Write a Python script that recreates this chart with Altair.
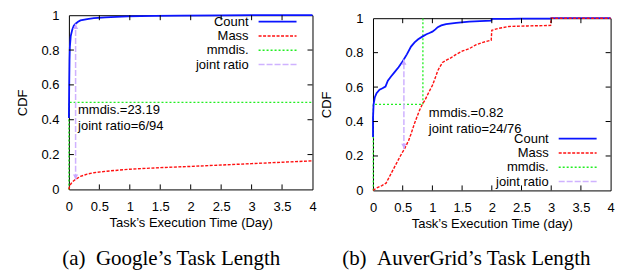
import altair as alt
import pandas as pd

# ---------------- data ----------------
# (a) Google
g_count_x = [0, 0, 0.005, 0.01, 0.016, 0.03, 0.055, 0.08, 0.11, 0.15, 0.19, 0.3, 0.41, 0.6, 0.96, 1.4, 1.83, 2.5, 3.0, 4.0]
g_count_y = [0.41, 0.41, 0.6, 0.74, 0.82, 0.88, 0.917, 0.94, 0.951, 0.962, 0.97, 0.978, 0.983, 0.988, 0.993, 0.996, 0.998, 0.999, 1.0, 1.0]
g_mass_x = [0, 0.01, 0.03, 0.05, 0.08, 0.12, 0.19, 0.3, 0.41, 0.6, 0.8, 1.0, 1.5, 2.0, 2.5, 3.0, 3.5, 4.0]
g_mass_y = [0, 0.015, 0.03, 0.04, 0.05, 0.06, 0.075, 0.088, 0.096, 0.104, 0.11, 0.116, 0.125, 0.132, 0.14, 0.148, 0.156, 0.164]
g_mm_x = [0.0, 0.0, 4.0]
g_mm_y = [0.0, 0.5, 0.5]
g_jr_x = 0.11
g_jr_lo = 0.055
g_jr_hi = 0.951
g_ann = ["mmdis.=23.19", "joint ratio=6/94"]

# (b) AuverGrid
a_count_x = [0, 0.0, 0.01, 0.03, 0.06, 0.11, 0.16, 0.21, 0.25, 0.3, 0.36, 0.43, 0.5, 0.57, 0.64, 0.7, 0.76,
             0.83, 0.9, 0.95, 1.0, 1.05, 1.09, 1.15, 1.23, 1.4, 1.62, 1.8, 1.99, 2.0, 2.5, 2.99, 3.0, 4.0]
a_count_y = [0.31, 0.42, 0.5, 0.54, 0.565, 0.585, 0.593, 0.603, 0.637, 0.66, 0.685, 0.715, 0.75, 0.79, 0.835, 0.86, 0.878,
             0.893, 0.907, 0.914, 0.922, 0.935, 0.948, 0.958, 0.966, 0.973, 0.98, 0.983, 0.986, 0.996, 0.997, 0.998, 1.0, 1.0]
a_mass_x = [0, 0.05, 0.1, 0.15, 0.22, 0.3, 0.39, 0.46, 0.53, 0.6, 0.64, 0.7, 0.78, 0.83, 0.87, 0.94, 1.0, 1.05, 1.09,
            1.12, 1.17, 1.25, 1.29, 1.4, 1.51, 1.62, 1.73, 1.85, 1.99, 2.0, 2.1, 2.29, 2.6, 2.99, 3.0, 4.0]
a_mass_y = [0, 0.012, 0.02, 0.028, 0.042, 0.095, 0.154, 0.2, 0.241, 0.29, 0.328, 0.39, 0.463, 0.5, 0.521, 0.57, 0.61, 0.655, 0.695,
            0.714, 0.743, 0.76, 0.765, 0.79, 0.81, 0.823, 0.845, 0.86, 0.872, 0.93, 0.94, 0.952, 0.955, 0.958, 1.0, 1.0]
a_mm_x = [0.005, 0.005, 0.84, 0.84]
a_mm_y = [0.0, 0.5, 0.5, 1.0]
a_jr_x = 0.52
a_jr_lo = 0.24
a_jr_hi = 0.76
a_ann = ["mmdis.=0.82", "joint ratio=24/76"]

x_ticks = [0, 0.5, 1, 1.5, 2, 2.5, 3, 3.5, 4]
y_ticks = [0, 0.2, 0.4, 0.6, 0.8, 1]
legend_labels = ["Count", "Mass", "mmdis.", "joint ratio"]

# ---------------- styles ----------------
FONT = "Liberation Sans"
SERIF = "Liberation Serif"
BLUE = "#0a14ff"
RED = "#ff1010"
GREEN = "#22ee22"
LAV = "#cfb2ff"
styles = {
    "Count": dict(color=BLUE, strokeWidth=1.8),
    "Mass": dict(color=RED, strokeWidth=1.4, strokeDash=[3, 1.5]),
    "mmdis.": dict(color=GREEN, strokeWidth=1.3, strokeDash=[2, 2]),
    "joint ratio": dict(color=LAV, strokeWidth=1.5, strokeDash=[6, 2]),
}


def panel(cx, cy, mx, my, gx, gy, jx, jlo, jhi, ann, ann_x, ann_y,
          xtitle, caption, W, H, leg_right, leg_top, cap_dx, cap_off):
    xs = alt.Scale(domain=[0, 4], nice=False, zero=False)
    ys = alt.Scale(domain=[0, 1], nice=False)
    common = dict(format="~g", ticks=False, domain=False, grid=False, labelOverlap=False,
                  labelFlush=False, labelFont=FONT, labelFontSize=13, labelColor="black",
                  titleFont=FONT, titleFontSize=13, titleFontWeight="normal", titleColor="black")
    xaxis = alt.Axis(values=x_ticks, labelPadding=11, title=xtitle, titlePadding=3, **common)
    yaxis = alt.Axis(values=y_ticks, labelPadding=10, title="CDF", titlePadding=11, **common)
    X = lambda f: alt.X(f, scale=xs, axis=xaxis)
    Y = lambda f: alt.Y(f, scale=ys, axis=yaxis)

    cdf = pd.DataFrame({"x": cx, "y": cy, "i": range(len(cx))})
    mdf = pd.DataFrame({"x": mx, "y": my, "i": range(len(mx))})
    gdf = pd.DataFrame({"x": gx, "y": gy, "i": range(len(gx))})

    count = alt.Chart(cdf).mark_line(**styles["Count"]).encode(x=X("x:Q"), y=Y("y:Q"), order="i:Q")
    mass = alt.Chart(mdf).mark_line(**styles["Mass"]).encode(x=X("x:Q"), y=Y("y:Q"), order="i:Q")
    mm = alt.Chart(gdf).mark_line(**styles["mmdis."]).encode(x=X("x:Q"), y=Y("y:Q"), order="i:Q")

    jdf = pd.DataFrame({"x": [jx], "lo": [jlo], "hi": [jhi]})
    jr = alt.Chart(jdf).mark_rule(**styles["joint ratio"]).encode(x=X("x:Q"), y=Y("lo:Q"), y2="hi:Q")
    head_up = alt.Chart(jdf).mark_point(shape="triangle-up", filled=True, size=28, color="#c9a6ff",
                                        opacity=1, yOffset=3).encode(x=X("x:Q"), y=Y("hi:Q"))
    head_dn = alt.Chart(jdf).mark_point(shape="triangle-down", filled=True, size=28, color="#c9a6ff",
                                        opacity=1, yOffset=-3).encode(x=X("x:Q"), y=Y("lo:Q"))

    adf = pd.DataFrame({"t": ann, "x": [ann_x, ann_x], "y": ann_y})
    annot = alt.Chart(adf).mark_text(align="left", baseline="middle", font=FONT, fontSize=13,
                                     color="black").encode(x=X("x:Q"), y=Y("y:Q"), text="t:N")

    # inward ticks on all four sides
    xt = pd.DataFrame({"x": x_ticks[1:-1]})
    yt = pd.DataFrame({"y": y_ticks[1:-1]})
    tk = dict(color="black", strokeWidth=1)
    tb = alt.Chart(xt).mark_rule(**tk).encode(x=X("x:Q"), y=alt.value(H), y2=alt.value(H - 5))
    tt = alt.Chart(xt).mark_rule(**tk).encode(x=X("x:Q"), y=alt.value(0), y2=alt.value(5))
    tl = alt.Chart(yt).mark_rule(**tk).encode(y=Y("y:Q"), x=alt.value(0), x2=alt.value(5))
    tr = alt.Chart(yt).mark_rule(**tk).encode(y=Y("y:Q"), x=alt.value(W), x2=alt.value(W - 5))

    # legend, gnuplot style: label right-aligned, then sample line
    leg = []
    for k, lab in enumerate(legend_labels):
        yy = leg_top + k * 14.3
        d = pd.DataFrame({"t": [lab]})
        leg.append(alt.Chart(d).mark_text(align="right", baseline="middle", font=FONT, fontSize=13,
                                          color="black").encode(text="t:N", x=alt.value(leg_right),
                                                                y=alt.value(yy)))
        leg.append(alt.Chart(d).mark_rule(**styles[lab]).encode(
            x=alt.value(leg_right + 10), x2=alt.value(leg_right + 48), y=alt.value(yy)))

    layers = [mm, count, mass, jr, head_up, head_dn, annot, tb, tt, tl, tr] + leg

    return alt.layer(*layers).properties(
        width=W, height=H,
        title=alt.TitleParams(caption, orient="bottom", font=SERIF, fontSize=21, fontWeight="normal",
                              color="black", dx=cap_dx, offset=cap_off, anchor="middle"))


left = panel(g_count_x, g_count_y, g_mass_x, g_mass_y, g_mm_x, g_mm_y, g_jr_x, g_jr_lo, g_jr_hi,
             g_ann, 0.15, [0.455, 0.365],
             "Task\u2019s Execution Time (Day)", "(a)\u2002Google\u2019s Task Length",
             244, 174.5, 180, 6.5, -19.5, 19)
right = panel(a_count_x, a_count_y, a_mass_x, a_mass_y, a_mm_x, a_mm_y, a_jr_x, a_jr_lo, a_jr_hi,
              a_ann, 0.94, [0.452, 0.357],
              "Task\u2019s Execution Time (day)", "(b)\u2002AuverGrid\u2019s Task Length",
              238, 172.5, 176, 120.7, -25.5, 18)

# empty strip above the right panel so that its frame starts a little lower
spacer = alt.Chart(pd.DataFrame({"t": [0]})).mark_rule(opacity=0).encode(
    x=alt.value(0), y=alt.value(0), y2=alt.value(1)
).properties(width=1, height=1, view=alt.ViewBackground(stroke="transparent"))

chart = alt.hconcat(
    left, alt.vconcat(spacer, right, spacing=2, bounds="flush"), spacing=60.6, bounds="flush"
).properties(
    padding={"left": 8, "top": 0, "right": 0, "bottom": 0}, background="white"
).configure_view(stroke="black", strokeWidth=1)

chart.save("out.html", embed_options={"renderer": "svg", "actions": False})
